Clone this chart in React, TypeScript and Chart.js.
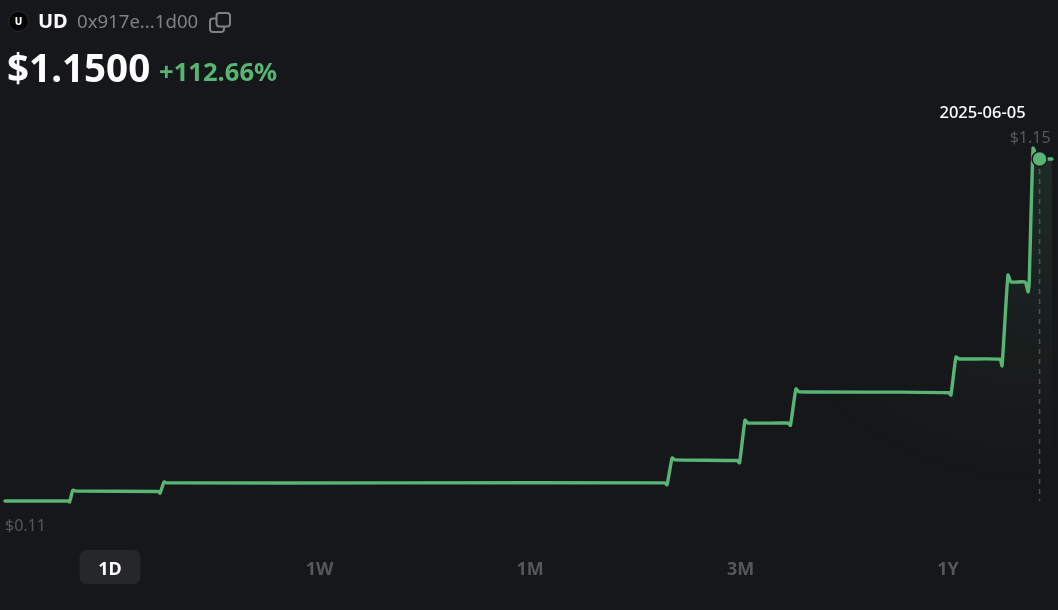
import React, { useEffect, useRef } from "react";
import { Chart, registerables } from "chart.js";

Chart.register(...registerables);

const FONT = '"Noto Sans", sans-serif';
const BG = "#16171a";
const GREEN = "#58b574";

const periodLabels = ["1D", "1W", "1M", "3M", "1Y"];
const periodPositions = [1, 2, 3.005, 4.01, 5];
const timeline = [
  0.499, 0.8, 0.807, 0.823, 0.838, 1.229, 1.239, 1.258, 1.272, 2.384, 3.649, 3.659, 3.683, 3.697, 3.993,
  4.005, 4.031, 4.045, 4.236, 4.248, 4.274, 4.289, 4.771, 5.005, 5.014, 5.038, 5.053, 5.248, 5.258, 5.286,
  5.301, 5.368, 5.382, 5.387, 5.406, 5.42, 5.437, 5.496,
];
const prices = [
  0.11, 0.11, 0.107, 0.143, 0.14, 0.139, 0.134, 0.168, 0.165, 0.165, 0.165, 0.159, 0.241, 0.235, 0.233,
  0.226, 0.356, 0.347, 0.347, 0.34, 0.451, 0.442, 0.441, 0.439, 0.432, 0.548, 0.542, 0.541, 0.521, 0.797,
  0.776, 0.776, 0.746, 0.767, 1.183, 1.162, 1.15, 1.15,
];
const cursorTime = 5.437;
const cursorDate = "2025-06-05";
const highPrice = 1.15;
const lowPrice = 0.11;
const lowBound = 0.11;

const annotations = {
  id: "annotations",
  beforeDraw(chart: any) {
    const { ctx, scales } = chart;
    const tx = scales.x.getPixelForValue(periodPositions[0]);
    ctx.save();
    ctx.fillStyle = "#26272b";
    ctx.beginPath();
    ctx.roundRect(tx - 30.5, 550, 61, 34, 7);
    ctx.fill();
    ctx.restore();
  },
  afterDatasetsDraw(chart: any) {
    const { ctx, scales } = chart;
    const cx = scales.x.getPixelForValue(cursorTime);
    const hy = scales.y.getPixelForValue(highPrice);
    const ly = scales.y.getPixelForValue(lowPrice);
    ctx.save();
    ctx.textBaseline = "middle";
    ctx.font = `500 16.5px ${FONT}`;
    ctx.fillStyle = "#ffffff";
    ctx.textAlign = "right";
    ctx.fillText(cursorDate, cx - 14, hy - 46);
    ctx.font = `400 16px ${FONT}`;
    ctx.fillStyle = "#55575b";
    ctx.textAlign = "right";
    ctx.fillText(`$${highPrice.toFixed(2)}`, cx + 11, hy - 21);
    ctx.textAlign = "left";
    ctx.fillText(`$${lowPrice.toFixed(2)}`, 5, ly + 25);
    ctx.restore();
  },
};

export default function App() {
  const ref = useRef<HTMLCanvasElement>(null);
  useEffect(() => {
    const chart = new Chart(ref.current!, {
      type: "line",
      data: {
        datasets: [
          {
            data: [
              { x: cursorTime, y: highPrice },
              { x: cursorTime, y: lowPrice },
            ],
            borderColor: "#4a4c50",
            borderWidth: 1.5,
            borderDash: [5, 5],
            pointRadius: 0,
            fill: false,
            order: 3,
          },
          {
            data: timeline.map((x, i) => ({ x, y: prices[i] })),
            borderColor: GREEN,
            borderWidth: 3.4,
            borderJoinStyle: "round",
            borderCapStyle: "round",
            tension: 0.15,
            pointRadius: 0,
            fill: { value: lowBound },
            backgroundColor: (c: any) => {
              const { chart: ch } = c;
              if (!ch.chartArea) return "rgba(0,0,0,0)";
              const cx = ch.scales.x.getPixelForValue(cursorTime);
              const cy = ch.scales.y.getPixelForValue(highPrice);
              const g = ch.ctx.createRadialGradient(cx, cy, 0, cx, cy, 330);
              g.addColorStop(0, "rgba(88,181,116,0.13)");
              g.addColorStop(0.5, "rgba(88,181,116,0.05)");
              g.addColorStop(1, "rgba(88,181,116,0)");
              return g;
            },
            order: 2,
          },
          {
            data: [{ x: cursorTime, y: highPrice }],
            pointRadius: 7.5,
            pointBackgroundColor: GREEN,
            pointBorderColor: BG,
            pointBorderWidth: 1.5,
            showLine: false,
            order: 1,
          },
        ],
      } as any,
      options: {
        animation: false,
        responsive: false,
        parsing: false,
        layout: { autoPadding: false, padding: { top: 110, bottom: 0.4, left: 0, right: 0 } },
        plugins: { legend: { display: false }, tooltip: { enabled: false } },
        scales: {
          x: {
            type: "linear",
            min: 0.475,
            max: 5.525,
            grid: { display: false, drawTicks: false },
            border: { display: false },
            afterBuildTicks: (s: any) => {
              s.ticks = periodPositions.map((value) => ({ value }));
            },
            afterFit: (s: any) => {
              s.paddingLeft = 0;
              s.paddingRight = 0;
            },
            ticks: {
              padding: 29,
              autoSkip: false,
              maxRotation: 0,
              font: { family: FONT, size: 18, weight: "700" },
              color: (c: any) => (c.index === 0 ? "#ffffff" : "#55575b"),
              callback: (v: any) => periodLabels[periodPositions.indexOf(Number(v))] ?? "",
            },
          },
          y: { display: false, min: 0.0218, max: 1.299 },
        },
      } as any,
      plugins: [annotations],
    });
    return () => chart.destroy();
  }, []);

  const abs = (left: number, top: number): React.CSSProperties => ({
    position: "absolute",
    left,
    top,
    lineHeight: 1,
    whiteSpace: "nowrap",
  });

  return (
    <div style={{ position: "fixed", inset: 0, width: 1058, height: 610, background: BG, fontFamily: FONT, overflow: "hidden" }}>
      <canvas ref={ref} width={1058} height={610} style={{ display: "block", position: "absolute", left: 0, top: 0 }} />
      <div
        style={{
          ...abs(8, 11),
          width: 21,
          height: 21,
          borderRadius: "50%",
          background: "#050506",
          border: "1px solid #2a2b2e",
          boxSizing: "border-box",
          color: "#fff",
          fontSize: 10,
          fontWeight: 800,
          lineHeight: "19px",
          textAlign: "center",
        }}
      >
        U
      </div>
      <div style={{ ...abs(38, 11), color: "#fff", fontSize: 20, fontWeight: 700 }}>UD</div>
      <div style={{ ...abs(77, 12), color: "#808185", fontSize: 18.6, fontWeight: 400 }}>0x917e...1d00</div>
      <svg style={{ position: "absolute", left: 209, top: 11 }} width={23} height={23} viewBox="0 0 23 23" fill="none" stroke="#808185" strokeWidth={2}>
        <rect x="7.5" y="2" width="13.5" height="13.5" rx="3" />
        <path d="M7 7.5H4a3 3 0 0 0-3 3V18a3 3 0 0 0 3 3h8a3 3 0 0 0 3-3v-2.5" />
      </svg>
      <div style={{ ...abs(7, 48), color: "#fff", fontSize: 38.6, fontWeight: 700 }}>$1.1500</div>
      <div style={{ ...abs(159, 59), color: GREEN, fontSize: 25.6, fontWeight: 700 }}>+112.66%</div>
    </div>
  );
}
